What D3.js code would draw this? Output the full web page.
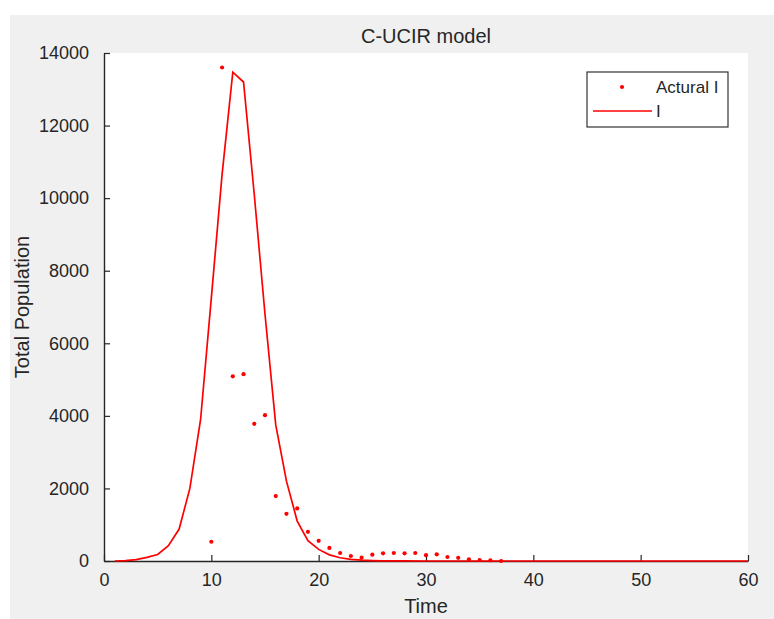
<!DOCTYPE html>
<html>
<head>
<meta charset="utf-8">
<script src="https://cdn.jsdelivr.net/npm/d3@7"></script>
<style>
  html, body { margin: 0; padding: 0; background: #ffffff; }
  svg { display: block; }
  text { font-family: "Liberation Sans", Arial, Helvetica, sans-serif; fill: #262626; }
</style>
</head>
<body>
<svg id="chart" width="774" height="619"></svg>
<script>
// ---- data ----
const title = "C-UCIR model";
const xLabel = "Time";
const yLabel = "Total Population";
const xTicks = [0, 10, 20, 30, 40, 50, 60];
const yTicks = [0, 2000, 4000, 6000, 8000, 10000, 12000, 14000];

// Actual infected (dots)
const actualTime = [10, 11, 12, 13, 14, 15, 16, 17, 18, 19, 20, 21, 22, 23, 24, 25, 26, 27, 28, 29, 30, 31, 32, 33, 34, 35, 36, 37];
const actualI    = [530, 13600, 5090, 5150, 3780, 4020, 1790, 1300, 1450, 805, 555, 360, 220, 138, 91, 174, 212, 220, 212, 220, 160, 184, 110, 87, 45, 28, 19, 0];

// Model I (line)
const modelTime = [1, 2, 3, 4, 5, 6, 7, 8, 9, 10, 11, 12, 13, 14, 15, 16, 17, 18, 19, 20, 21, 22, 23, 24, 25, 26, 27, 28, 30, 35, 40, 50, 60];
const modelI    = [0, 10, 40, 100, 180, 420, 880, 2000, 3900, 7250, 10650, 13470, 13200, 10100, 6800, 3750, 2200, 1100, 560, 320, 170, 90, 45, 22, 11, 5, 2, 1, 0, 0, 0, 0, 0];

const legendLabels = ["Actural I", "I"];

// ---- layout ----
const svg = d3.select("#chart");
const W = 774, H = 619;
const plot = { left: 104, right: 748, top: 53, bottom: 561 };
const red = "#ff0000";
const axisColor = "#262626";

// figure background
svg.append("rect").attr("x", 0).attr("y", 0).attr("width", W).attr("height", H).attr("fill", "#ffffff");
svg.append("rect").attr("x", 10).attr("y", 15).attr("width", W - 10).attr("height", H - 15).attr("fill", "#f0f0f0");
// plot area
svg.append("rect")
  .attr("x", plot.left).attr("y", plot.top)
  .attr("width", plot.right - plot.left).attr("height", plot.bottom - plot.top)
  .attr("fill", "#ffffff");

const x = d3.scaleLinear().domain([0, 60]).range([plot.left, plot.right]);
const y = d3.scaleLinear().domain([0, 14000]).range([plot.bottom, plot.top]);

// axes (MATLAB style: inward ticks, box off)
const xAxis = d3.axisBottom(x).tickValues(xTicks).tickSizeInner(-6).tickSizeOuter(0).tickPadding(12).tickFormat(d3.format("d"));
const yAxis = d3.axisLeft(y).tickValues(yTicks).tickSizeInner(-6).tickSizeOuter(0).tickPadding(15).tickFormat(d3.format("d"));

const gx = svg.append("g").attr("transform", `translate(0,${plot.bottom})`).call(xAxis);
const gy = svg.append("g").attr("transform", `translate(${plot.left},0)`).call(yAxis);
[gx, gy].forEach(g => {
  g.select(".domain").attr("stroke", axisColor).attr("stroke-width", 1.4);
  g.selectAll(".tick line").attr("stroke", axisColor).attr("stroke-width", 1.2);
  g.selectAll(".tick text").attr("fill", axisColor).style("font-size", "18px")
    .style("font-family", "'Liberation Sans', Arial, sans-serif");
});

// line
const line = d3.line().x((d, i) => x(modelTime[i])).y(d => y(d));
svg.append("path")
  .datum(modelI)
  .attr("d", line)
  .attr("fill", "none")
  .attr("stroke", red)
  .attr("stroke-width", 1.7)
  .attr("stroke-linejoin", "miter");

// dots
svg.append("g").selectAll("circle")
  .data(actualI)
  .join("circle")
  .attr("cx", (d, i) => x(actualTime[i]))
  .attr("cy", d => y(d))
  .attr("r", 2.1)
  .attr("fill", red);

// title and labels
svg.append("text")
  .attr("x", (plot.left + plot.right) / 2).attr("y", 43)
  .attr("text-anchor", "middle").style("font-size", "20px")
  .text(title);
svg.append("text")
  .attr("x", (plot.left + plot.right) / 2).attr("y", 613)
  .attr("text-anchor", "middle").style("font-size", "20px")
  .text(xLabel);
svg.append("text")
  .attr("transform", `translate(29,${(plot.top + plot.bottom) / 2}) rotate(-90)`)
  .attr("text-anchor", "middle").style("font-size", "20px")
  .text(yLabel);

// legend
const lg = svg.append("g");
lg.append("rect")
  .attr("x", 587).attr("y", 72).attr("width", 141).attr("height", 55)
  .attr("fill", "#ffffff").attr("stroke", "#333333").attr("stroke-width", 1.2);
lg.append("circle").attr("cx", 622).attr("cy", 87).attr("r", 2.1).attr("fill", red);
lg.append("line").attr("x1", 593).attr("x2", 652).attr("y1", 111).attr("y2", 111)
  .attr("stroke", red).attr("stroke-width", 1.7);
lg.append("text").attr("x", 656).attr("y", 93).style("font-size", "17px").text(legendLabels[0]);
lg.append("text").attr("x", 656).attr("y", 117).style("font-size", "17px").text(legendLabels[1]);
</script>
</body>
</html>
